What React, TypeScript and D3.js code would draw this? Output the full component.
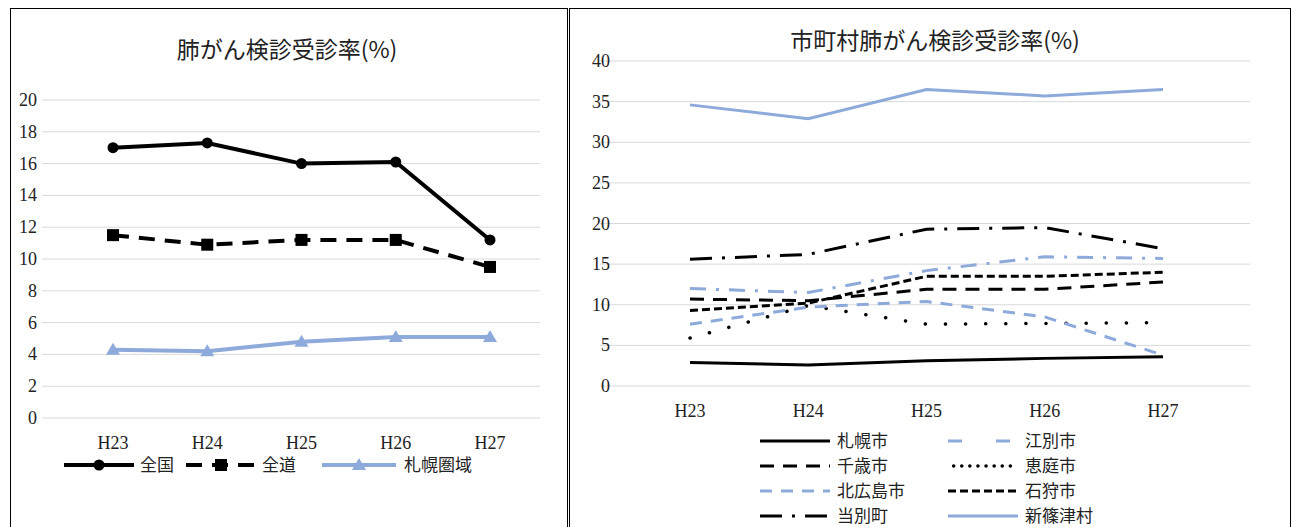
import { scaleLinear, scalePoint, line } from 'd3'

const years = ['H23', 'H24', 'H25', 'H26', 'H27']
const leftTicks = [0, 2, 4, 6, 8, 10, 12, 14, 16, 18, 20]
const rightTicks = [0, 5, 10, 15, 20, 25, 30, 35, 40]

const zenkoku = [17.0, 17.3, 16.0, 16.1, 11.2]
const zendo = [11.5, 10.9, 11.2, 11.2, 9.5]
const sapporoArea = [4.3, 4.2, 4.8, 5.1, 5.1]

const sapporo = [2.9, 2.6, 3.1, 3.4, 3.6]
const ebetsu = [12.0, 11.5, 14.2, 15.9, 15.7]
const chitose = [10.7, 10.5, 11.9, 11.9, 12.8]
const eniwa = [5.9, 9.9, 7.6, 7.7, 7.8]
const kitahiroshima = [7.6, 9.7, 10.4, 8.5, 3.8]
const ishikari = [9.3, 10.2, 13.5, 13.5, 14.0]
const tobetsu = [15.6, 16.2, 19.3, 19.5, 16.9]
const shinshinotsu = [34.6, 32.9, 36.5, 35.7, 36.5]

const BLUE = '#8eaadb'
const JP = '"Noto Sans CJK JP", sans-serif'
const SERIF = '"Liberation Serif", serif'

type S = { name: string; values: number[]; color: string; dash?: string; width: number; cap?: 'round' | 'butt' }

const rightSeries: S[] = [
  { name: '札幌市', values: sapporo, color: '#000', width: 3 },
  { name: '江別市', values: ebetsu, color: BLUE, dash: '16 10 3 10', width: 3 },
  { name: '千歳市', values: chitose, color: '#000', dash: '14 9', width: 3 },
  { name: '恵庭市', values: eniwa, color: '#000', dash: '0.1 20', width: 3.5, cap: 'round' },
  { name: '北広島市', values: kitahiroshima, color: BLUE, dash: '12 9', width: 3 },
  { name: '石狩市', values: ishikari, color: '#000', dash: '8 4', width: 3 },
  { name: '当別町', values: tobetsu, color: '#000', dash: '22 10 3 10', width: 3 },
  { name: '新篠津村', values: shinshinotsu, color: BLUE, width: 3 },
]

const legendDash: Record<string, string | undefined> = {
  江別市: '14 34',
  恵庭市: '0.1 8',
}

export default function App() {
  const lx = scalePoint<string>().domain(years).range([113, 490])
  const ly = scaleLinear().domain([0, 20]).range([418, 100])
  const rx = scalePoint<string>().domain(years).range([690, 1163])
  const ry = scaleLinear().domain([0, 40]).range([386, 61])
  const lpath = (v: number[]) => line<number>().x((_, i) => lx(years[i])!).y((d) => ly(d))(v) ?? ''
  const rpath = (v: number[]) => line<number>().x((_, i) => rx(years[i])!).y((d) => ry(d))(v) ?? ''

  return (
    <svg width={1299} height={527} style={{ position: 'absolute', left: 0, top: 0 }}>
      <rect width={1299} height={527} fill="#fff" />
      <rect x={10.5} y={8.5} width={557} height={530} fill="none" stroke="#000" />
      <rect x={569.5} y={8.5} width={721} height={530} fill="none" stroke="#000" />

      {/* left chart */}
      <text x={287} y={58} textAnchor="middle" fontFamily={JP} fontSize={23} fill="#222">肺がん検診受診率(%)</text>
      {leftTicks.map((t) => (
        <g key={t}>
          <line x1={42} x2={540} y1={ly(t)} y2={ly(t)} stroke="#d9d9d9" strokeWidth={1} />
          <text x={37} y={ly(t) + 6} textAnchor="end" fontFamily={SERIF} fontSize={18} fill="#222">{t}</text>
        </g>
      ))}
      {years.map((y) => (
        <text key={y} x={lx(y)} y={449} textAnchor="middle" fontFamily={SERIF} fontSize={18} fill="#222">{y}</text>
      ))}
      <path d={lpath(sapporoArea)} fill="none" stroke={BLUE} strokeWidth={4} />
      {sapporoArea.map((v, i) => (
        <path key={i} transform={`translate(${lx(years[i])},${ly(v)})`} d="M0,-7L7,5L-7,5Z" fill={BLUE} />
      ))}
      <path d={lpath(zendo)} fill="none" stroke="#000" strokeWidth={4} strokeDasharray="16 10" />
      {zendo.map((v, i) => (
        <rect key={i} x={lx(years[i])! - 6} y={ly(v) - 6} width={12} height={12} fill="#000" />
      ))}
      <path d={lpath(zenkoku)} fill="none" stroke="#000" strokeWidth={4} />
      {zenkoku.map((v, i) => (
        <circle key={i} cx={lx(years[i])} cy={ly(v)} r={5.5} fill="#000" />
      ))}

      {/* left legend */}
      <g fontFamily={JP} fontSize={17} fill="#222">
        <line x1={64} x2={134} y1={465} y2={465} stroke="#000" strokeWidth={4} />
        <circle cx={99} cy={465} r={5.5} fill="#000" />
        <text x={140} y={471}>全国</text>
        <line x1={186} x2={256} y1={465} y2={465} stroke="#000" strokeWidth={4} strokeDasharray="16 10" />
        <rect x={215} y={459} width={12} height={12} fill="#000" />
        <text x={262} y={471}>全道</text>
        <line x1={322} x2={396} y1={465} y2={465} stroke={BLUE} strokeWidth={4} />
        <path transform="translate(359,465)" d="M0,-7L7,5L-7,5Z" fill={BLUE} />
        <text x={404} y={471}>札幌圏域</text>
      </g>

      {/* right chart */}
      <text x={935} y={49} textAnchor="middle" fontFamily={JP} fontSize={23} fill="#222">市町村肺がん検診受診率(%)</text>
      {rightTicks.map((t) => (
        <g key={t}>
          <line x1={600} x2={1250} y1={ry(t)} y2={ry(t)} stroke="#d9d9d9" strokeWidth={1} />
          <text x={610} y={ry(t) + 6} textAnchor="end" fontFamily={SERIF} fontSize={18} fill="#222">{t}</text>
        </g>
      ))}
      {years.map((y) => (
        <text key={y} x={rx(y)} y={417} textAnchor="middle" fontFamily={SERIF} fontSize={18} fill="#222">{y}</text>
      ))}
      {rightSeries.map((s) => (
        <path key={s.name} d={rpath(s.values)} fill="none" stroke={s.color} strokeWidth={s.width}
          strokeDasharray={s.dash} strokeLinecap={s.cap ?? 'butt'} />
      ))}

      {/* right legend */}
      <g fontFamily={JP} fontSize={17} fill="#222">
        {rightSeries.map((s, i) => {
          const col = i % 2
          const row = Math.floor(i / 2)
          const x0 = col === 0 ? 760 : 948
          const y0 = 441 + row * 25
          return (
            <g key={s.name}>
              <line x1={x0} x2={x0 + 70} y1={y0} y2={y0} stroke={s.color} strokeWidth={s.width}
                strokeDasharray={legendDash[s.name] ?? s.dash} strokeLinecap={s.cap ?? 'butt'}
                strokeDashoffset={s.name === '恵庭市' ? -38 : 0} />
              <text x={x0 + 77} y={y0 + 6}>{s.name}</text>
            </g>
          )
        })}
      </g>
    </svg>
  )
}
